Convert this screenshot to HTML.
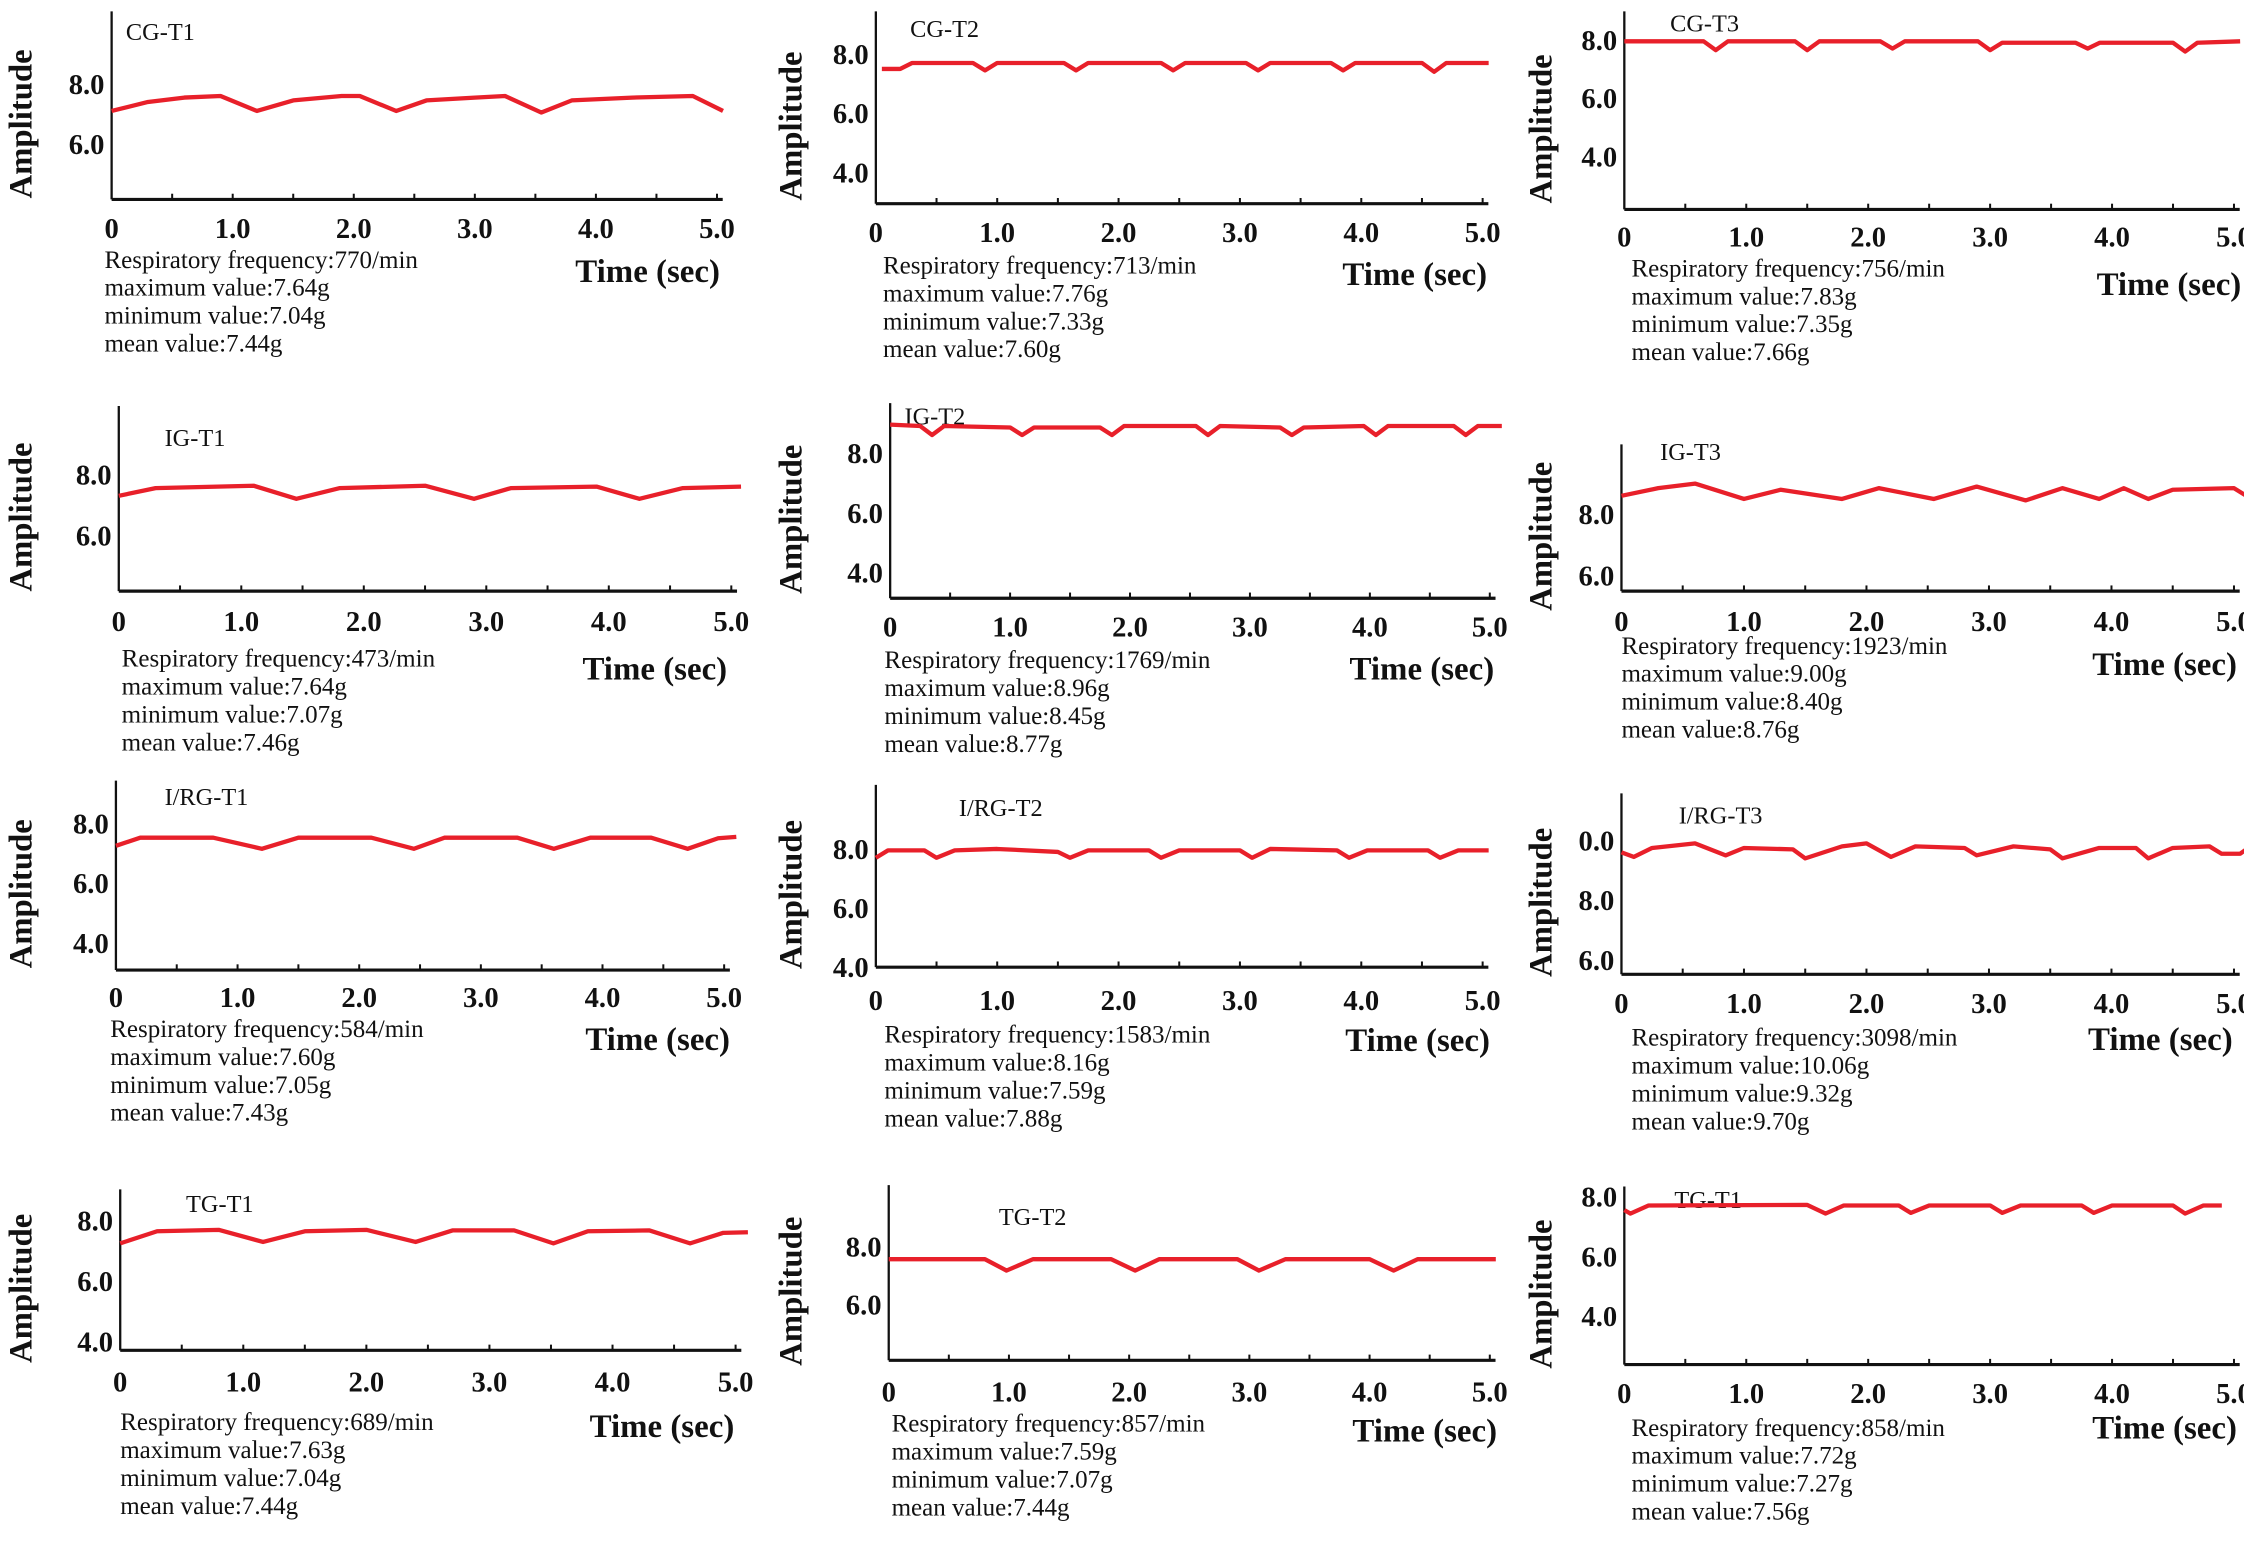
<!DOCTYPE html>
<html><head><meta charset="utf-8">
<style>
html,body{margin:0;padding:0;background:#fff;}
svg{display:block;}
text{font-family:"Liberation Serif",serif;fill:#111;}
</style></head>
<body>
<svg id="fig" width="2244" height="1564" viewBox="0 0 1568 1098" preserveAspectRatio="none" xmlns="http://www.w3.org/2000/svg"></svg>
<script>
// ---- data (time in sec, amplitude in g) ----
const cgT1Times=[0,0.3,0.6,0.9,1.2,1.5,1.9,2.05,2.35,2.6,3.0,3.25,3.55,3.8,4.3,4.8,5.05];
const cgT1Values=[7.1,7.4,7.55,7.6,7.1,7.45,7.6,7.6,7.1,7.45,7.55,7.6,7.05,7.45,7.55,7.6,7.1];
const cgT2Times=[0.05,0.2,0.3,0.8,0.9,1.0,1.55,1.65,1.75,2.35,2.45,2.55,3.05,3.15,3.25,3.75,3.85,3.95,4.5,4.6,4.7,5.05];
const cgT2Values=[7.5,7.5,7.7,7.7,7.45,7.7,7.7,7.45,7.7,7.7,7.45,7.7,7.7,7.45,7.7,7.7,7.45,7.7,7.7,7.4,7.7,7.7];
const cgT3Times=[0,0.65,0.75,0.85,1.4,1.5,1.6,2.1,2.2,2.3,2.9,3.0,3.1,3.7,3.8,3.9,4.5,4.6,4.7,5.05];
const cgT3Values=[7.95,7.95,7.65,7.95,7.95,7.65,7.95,7.95,7.7,7.95,7.95,7.65,7.9,7.9,7.7,7.9,7.9,7.6,7.9,7.95];
const igT1Times=[0,0.3,1.1,1.45,1.8,2.5,2.9,3.2,3.9,4.25,4.6,5.08];
const igT1Values=[7.3,7.55,7.63,7.2,7.55,7.63,7.2,7.55,7.6,7.2,7.55,7.6];
const igT2Times=[0,0.25,0.35,0.45,1.0,1.1,1.2,1.75,1.85,1.95,2.55,2.65,2.75,3.25,3.35,3.45,3.95,4.05,4.15,4.7,4.8,4.9,5.1];
const igT2Values=[8.95,8.9,8.6,8.9,8.85,8.6,8.85,8.85,8.6,8.9,8.9,8.6,8.9,8.85,8.6,8.85,8.9,8.6,8.9,8.9,8.6,8.9,8.9];
const igT3Times=[0,0.3,0.6,1.0,1.3,1.8,2.1,2.55,2.9,3.3,3.6,3.9,4.1,4.3,4.5,5.0,5.1];
const igT3Values=[8.6,8.85,9.0,8.5,8.8,8.5,8.85,8.5,8.9,8.45,8.85,8.5,8.85,8.5,8.8,8.85,8.6];
const irgT1Times=[0,0.2,0.8,1.2,1.5,2.1,2.45,2.7,3.3,3.6,3.9,4.4,4.7,4.95,5.1];
const irgT1Values=[7.25,7.52,7.52,7.15,7.52,7.52,7.15,7.52,7.52,7.15,7.52,7.52,7.15,7.5,7.55];
const irgT2Times=[0,0.1,0.4,0.5,0.65,1.0,1.5,1.6,1.75,2.25,2.35,2.5,3.0,3.1,3.25,3.8,3.9,4.05,4.55,4.65,4.8,5.05];
const irgT2Values=[7.7,7.95,7.95,7.7,7.95,8.0,7.9,7.7,7.95,7.95,7.7,7.95,7.95,7.7,8.0,7.95,7.7,7.95,7.95,7.7,7.95,7.95];
const irgT3Times=[0,0.1,0.25,0.6,0.85,1.0,1.4,1.5,1.8,2.0,2.2,2.4,2.8,2.9,3.2,3.5,3.6,3.9,4.2,4.3,4.5,4.8,4.9,5.05,5.1];
const irgT3Values=[9.6,9.45,9.75,9.9,9.5,9.75,9.7,9.4,9.8,9.9,9.45,9.8,9.75,9.5,9.8,9.7,9.4,9.75,9.75,9.4,9.75,9.8,9.55,9.55,9.7];
const tgT1Times=[0,0.3,0.8,1.16,1.5,2.0,2.4,2.7,3.2,3.52,3.8,4.3,4.63,4.9,5.1];
const tgT1Values=[7.25,7.65,7.7,7.3,7.65,7.7,7.3,7.68,7.68,7.25,7.65,7.68,7.25,7.6,7.62];
const tgT2Times=[0,0.8,0.98,1.2,1.85,2.05,2.25,2.9,3.08,3.3,4.0,4.2,4.4,5.05];
const tgT2Values=[7.56,7.56,7.17,7.56,7.56,7.17,7.56,7.56,7.17,7.56,7.56,7.17,7.56,7.56];
const tgT3Times=[0,0.05,0.2,1.5,1.65,1.8,2.25,2.35,2.5,3.0,3.1,3.25,3.75,3.85,4.0,4.5,4.6,4.75,4.9];
const tgT3Values=[7.55,7.43,7.7,7.72,7.43,7.7,7.7,7.45,7.7,7.7,7.45,7.7,7.7,7.45,7.7,7.7,7.43,7.7,7.7];
const xTickValues=[0,1,2,3,4,5];
const xTickLabels=["0","1.0","2.0","3.0","4.0","5.0"];

// ---- layout (viewBox units) ----
const panels=[
 {name:"cg-t1",title:"CG-T1",tx:88,ty:23,ax:78,top:8,bot:140,right:505,yt:[8,6],yp:[59,101],yl:["8.0","6.0"],xl:160,sx:73,sy:183,tmx:402,tmy:190,amx:14,t:cgT1Times,v:cgT1Values,stats:["Respiratory frequency:770/min","maximum value:7.64g","minimum value:7.04g","mean value:7.44g"]},
 {name:"cg-t2",title:"CG-T2",tx:636,ty:21,ax:612,top:8,bot:143,right:1040,yt:[8,6,4],yp:[38,80,121],yl:["8.0","6.0","4.0"],xl:163,sx:617,sy:187,tmx:938,tmy:192,amx:552,t:cgT2Times,v:cgT2Values,stats:["Respiratory frequency:713/min","maximum value:7.76g","minimum value:7.33g","mean value:7.60g"]},
 {name:"cg-t3",title:"CG-T3",tx:1167,ty:17,ax:1135,top:8,bot:147,right:1565,yt:[8,6,4],yp:[28,69,110],yl:["8.0","6.0","4.0"],xl:166,sx:1140,sy:189,tmx:1465,tmy:199,amx:1076,t:cgT3Times,v:cgT3Values,stats:["Respiratory frequency:756/min","maximum value:7.83g","minimum value:7.35g","mean value:7.66g"]},
 {name:"ig-t1",title:"IG-T1",tx:115,ty:308,ax:83,top:285,bot:415,right:515,yt:[8,6],yp:[333,376],yl:["8.0","6.0"],xl:436,sx:85,sy:463,tmx:407,tmy:469,amx:14,t:igT1Times,v:igT1Values,stats:["Respiratory frequency:473/min","maximum value:7.64g","minimum value:7.07g","mean value:7.46g"]},
 {name:"ig-t2",title:"IG-T2",tx:632,ty:293,ax:622,top:283,bot:420,right:1045,yt:[8,6,4],yp:[318,360,402],yl:["8.0","6.0","4.0"],xl:440,sx:618,sy:464,tmx:943,tmy:469,amx:552,t:igT2Times,v:igT2Values,stats:["Respiratory frequency:1769/min","maximum value:8.96g","minimum value:8.45g","mean value:8.77g"]},
 {name:"ig-t3",title:"IG-T3",tx:1160,ty:318,ax:1133,top:312,bot:415,right:1565,yt:[8,6],yp:[361,404],yl:["8.0","6.0"],xl:436,sx:1133,sy:454,tmx:1462,tmy:466,amx:1076,t:igT3Times,v:igT3Values,stats:["Respiratory frequency:1923/min","maximum value:9.00g","minimum value:8.40g","mean value:8.76g"]},
 {name:"irg-t1",title:"I/RG-T1",tx:115,ty:560,ax:81,top:548,bot:681,right:510,yt:[8,6,4],yp:[578,620,662],yl:["8.0","6.0","4.0"],xl:700,sx:77,sy:723,tmx:409,tmy:729,amx:14,t:irgT1Times,v:irgT1Values,stats:["Respiratory frequency:584/min","maximum value:7.60g","minimum value:7.05g","mean value:7.43g"]},
 {name:"irg-t2",title:"I/RG-T2",tx:670,ty:568,ax:612,top:551,bot:679,right:1040,yt:[8,6,4],yp:[596,637,679],yl:["8.0","6.0","4.0"],xl:702,sx:618,sy:727,tmx:940,tmy:730,amx:552,t:irgT2Times,v:irgT2Values,stats:["Respiratory frequency:1583/min","maximum value:8.16g","minimum value:7.59g","mean value:7.88g"]},
 {name:"irg-t3",title:"I/RG-T3",tx:1173,ty:573,ax:1133,top:557,bot:684,right:1565,yt:[10,8,6],yp:[590,632,674],yl:["0.0","8.0","6.0"],xl:704,sx:1140,sy:729,tmx:1459,tmy:729,amx:1076,t:irgT3Times,v:irgT3Values,stats:["Respiratory frequency:3098/min","maximum value:10.06g","minimum value:9.32g","mean value:9.70g"]},
 {name:"tg-t1",title:"TG-T1",tx:130,ty:846,ax:84,top:835,bot:948,right:518,yt:[8,6,4],yp:[857,900,942],yl:["8.0","6.0","4.0"],xl:970,sx:84,sy:999,tmx:412,tmy:1001,amx:14,t:tgT1Times,v:tgT1Values,stats:["Respiratory frequency:689/min","maximum value:7.63g","minimum value:7.04g","mean value:7.44g"]},
 {name:"tg-t2",title:"TG-T2",tx:698,ty:855,ax:621,top:832,bot:955,right:1045,yt:[8,6],yp:[875,916],yl:["8.0","6.0"],xl:977,sx:623,sy:1000,tmx:945,tmy:1004,amx:552,t:tgT2Times,v:tgT2Values,stats:["Respiratory frequency:857/min","maximum value:7.59g","minimum value:7.07g","mean value:7.44g"]},
 {name:"tg-t1-b",title:"TG-T1",tx:1170,ty:843,ax:1135,top:833,bot:958,right:1565,yt:[8,6,4],yp:[840,882,924],yl:["8.0","6.0","4.0"],xl:978,sx:1140,sy:1003,tmx:1462,tmy:1002,amx:1076,t:tgT3Times,v:tgT3Values,stats:["Respiratory frequency:858/min","maximum value:7.72g","minimum value:7.27g","mean value:7.56g"]}
];

const NS="http://www.w3.org/2000/svg";
const fig=document.getElementById('fig');
function mk(tag,attrs,parent,txt){const e=document.createElementNS(NS,tag);for(const k in attrs)e.setAttribute(k,attrs[k]);if(txt!==undefined)e.textContent=txt;parent.appendChild(e);return e;}

panels.forEach(p=>{
  const g=mk('g',{},fig);
  
  
  const x5=p.right-4;
  const xs=t=>p.ax+(x5-p.ax)*t/5;
  const unit=(p.yp[p.yp.length-1]-p.yp[0])/(p.yt[p.yt.length-1]-p.yt[0]);
  const ys=v=>p.yp[0]+(v-p.yt[0])*unit;
  const ya=mk('line',{x1:p.ax,y1:p.top,x2:p.ax,y2:p.bot,stroke:'#111','stroke-width':1.6},g);
  
  
  const xa=mk('line',{x1:p.ax,y1:p.bot,x2:p.right,y2:p.bot,stroke:'#111','stroke-width':2.2},g);
  
  
  for(let i=1;i<=10;i++){
    const tk=mk('line',{x1:xs(i*0.5),y1:p.bot,x2:xs(i*0.5),y2:p.bot-4,stroke:'#111','stroke-width':1.4},g);
    
    
  }
  xTickValues.forEach((tv,i)=>{
    const tl=mk('text',{x:xs(tv),y:p.xl+7,'text-anchor':'middle','font-size':20,'font-weight':'bold'},g,xTickLabels[i]);
    
    
  });
  p.yt.forEach((tv,i)=>{
    const yl=mk('text',{x:p.ax-5,y:ys(tv)+7,'text-anchor':'end','font-size':20,'font-weight':'bold'},g,p.yl[i]);
    
    
  });
  const cy=(p.top+p.bot)/2+5;
  const at=mk('text',{x:p.amx,y:cy,'text-anchor':'middle','font-size':23,'font-weight':'bold',transform:'rotate(-90 '+(p.amx+8)+' '+cy+')'},g,'Amplitude');
  
  
  const tt=mk('text',{x:p.tmx,y:p.tmy+8,'font-size':23,'font-weight':'bold'},g,'Time (sec)');
  
  
  const ti=mk('text',{x:p.tx,y:p.ty+5,'font-size':17},g,p.title);
  
  
  p.stats.forEach((s,i)=>{
    const st=mk('text',{x:p.sx,y:p.sy+i*19.6+5,'font-size':17.5},g,s);
    
    
  });
  const pts=p.t.map((t,i)=>xs(t).toFixed(1)+','+ys(p.v[i]).toFixed(1)).join(' ');
  const ln=mk('polyline',{points:pts,fill:'none',stroke:'#e8202a','stroke-width':3,'stroke-linejoin':'round'},g);
  
  
});
</script>
</body></html>
